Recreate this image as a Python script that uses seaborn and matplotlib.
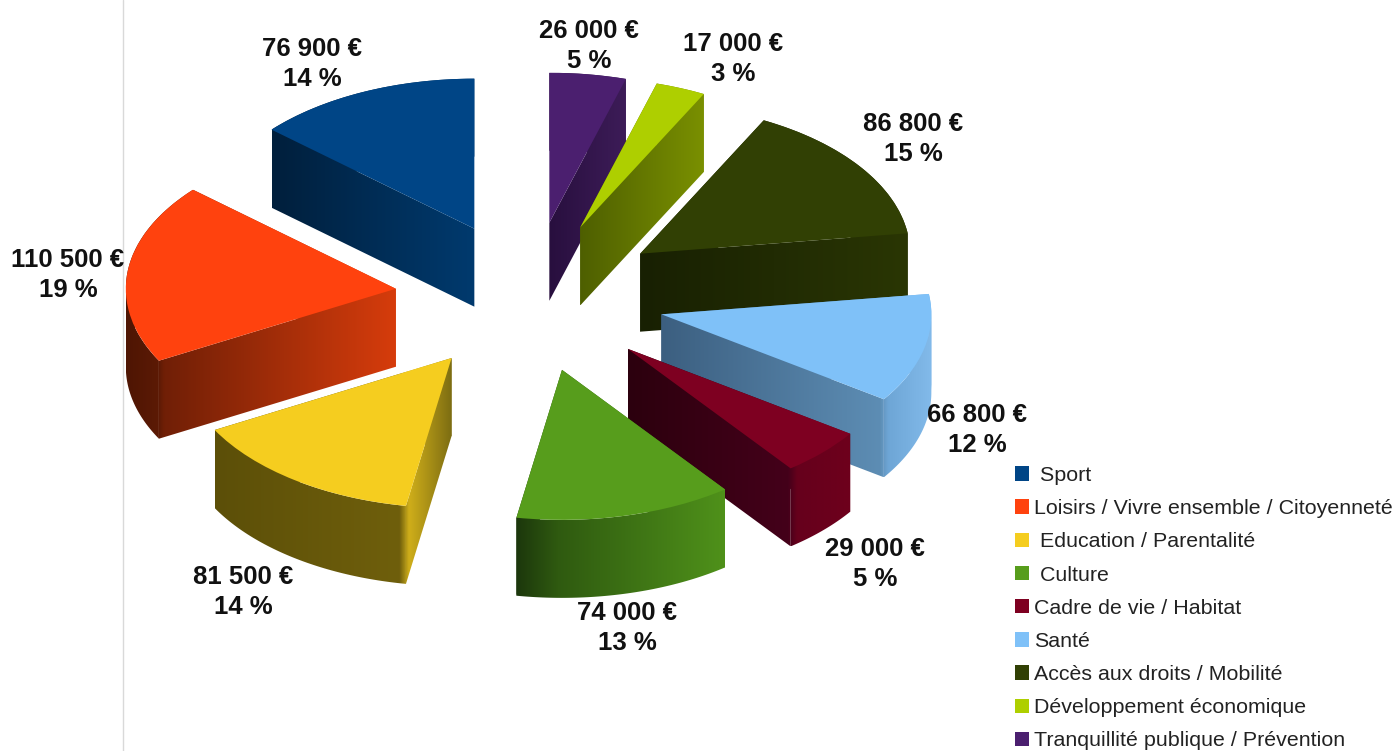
import numpy as np
import matplotlib
matplotlib.use("Agg")
import matplotlib.pyplot as plt
from matplotlib.colors import LinearSegmentedColormap
from matplotlib.path import Path
from matplotlib.transforms import Affine2D
import seaborn as sns

categories = [" Sport", "Loisirs / Vivre ensemble / Citoyenneté", " Education / Parentalité",
              " Culture", "Cadre de vie / Habitat", "Santé", "Accès aux droits / Mobilité",
              "Développement économique", "Tranquillité publique / Prévention"]
amounts = [76900, 110500, 81500, 74000, 29000, 66800, 86800, 17000, 26000]
percents = [14, 19, 14, 13, 5, 12, 15, 3, 5]
colors = ["#004586", "#ff420e", "#f5cd1f", "#579d1c", "#7e0021", "#7fc1f8", "#314004", "#aecf00", "#4b1f6f"]
side_stops = [
    [(0, "#001f3c"), (1, "#003a6e")],
    [(0, "#4e1503"), (0.12, "#5c1a05"), (0.14, "#701f06"), (1, "#d63c0c")],
    [(0, "#5c4f08"), (0.78, "#6f5f0c"), (0.82, "#cfae1a"), (1, "#7d6d12")],
    [(0, "#1c370c"), (0.2, "#2f5a10"), (1, "#4f911a")],
    [(0, "#2c000e"), (0.72, "#44001a"), (0.76, "#66001c"), (1, "#6e001c")],
    [(0, "#3c5f80"), (0.81, "#5d8db4"), (0.84, "#6ea6d6"), (1, "#82baea")],
    [(0, "#182002"), (1, "#2a3604")],
    [(0, "#4e5f00"), (1, "#7a9000")],
    [(0, "#280f3e"), (1, "#3d1c58")],
]
depth_order = [8, 0, 7, 6, 1, 5, 2, 4, 3]
label_centers = [(312, 62), (68, 273), (243, 590), (627, 626), (875, 562), (977, 428),
                 (913, 137), (733, 57), (589, 44)]

W, H = 1399, 751
cx, cy, a, b = 530, 297, 270, 150
depth = 78 / b

sns.set_theme(style="white")
plt.rcParams["font.family"] = ["Liberation Sans", "DejaVu Sans"]
fig = plt.figure(figsize=(W / 100, H / 100), dpi=100, facecolor="white")
ax = fig.add_axes([0, 0, 1, 1])

wedges, _ = ax.pie(amounts, colors=colors, startangle=90, counterclock=True,
                   explode=[0.5] * len(amounts), radius=1, wedgeprops=dict(linewidth=0))
ax.set_aspect("auto")
ax.set_xlim(-cx / a, (W - cx) / a)
ax.set_ylim((cy - H) / b, cy / b)
ax.axis("off")

ax.plot([(123 - cx) / a] * 2, [(cy - H) / b, cy / b], color="#d9d9d9", lw=1, zorder=0.5)

for rank, i in enumerate(depth_order):
    w = wedges[i]
    z = 1 + rank
    ctr = np.array(w.center)
    down = np.array([0, -depth])

    def arc_points(t0, t1):
        th = np.radians(np.linspace(t0, t1, 60))
        return np.c_[ctr[0] + w.r * np.cos(th), ctr[1] + w.r * np.sin(th)]

    inner = [t for t in np.arange(0, 721, 180) if w.theta1 < t < w.theta2]
    breaks = [w.theta1, *inner, w.theta2]
    faces = []
    for t0, t1 in zip(breaks[:-1], breaks[1:]):
        arc = arc_points(t0, t1)
        faces.append(np.vstack([arc, (arc + down)[::-1]]))
    for end in (w.theta1, w.theta2):
        p = arc_points(end, end)[0]
        faces.append(np.array([ctr, p, p + down, ctr + down]))
    pts = np.vstack(faces + [arc_points(w.theta1, w.theta2)])
    x0, x1, y0, y1 = pts[:, 0].min(), pts[:, 0].max(), pts[:, 1].min() , pts[:, 1].max()
    cmap = LinearSegmentedColormap.from_list(f"side{i}", side_stops[i])
    for face in faces:
        im = ax.imshow(np.linspace(0, 1, 512)[None, :], extent=(x0, x1, y0, y1), cmap=cmap,
                       aspect="auto", interpolation="bilinear", zorder=z)
        im.set_clip_path(Path(np.vstack([face, face[0]]), closed=True), ax.transData)
    w.set_zorder(z + 0.5)

ax.set_xlim(-cx / a, (W - cx) / a)
ax.set_ylim((cy - H) / b, cy / b)

px = Affine2D().scale(1, -1).translate(0, H)
for v, p, (x, y) in zip(amounts, percents, label_centers):
    txt = f"{v:,}".replace(",", " ") + f" €\n{p} %"
    ax.text(x, y + 2, txt, transform=px, ha="center", va="center", multialignment="center",
            fontsize=18.5, fontweight="bold", color="#111111", linespacing=1.33, zorder=30)

leg = ax.legend(wedges, categories, loc="upper left", bbox_to_anchor=(1015 / W, 1 - 466 / H),
                bbox_transform=fig.transFigure, frameon=False, fontsize=15.4, borderpad=0, borderaxespad=0,
                handlelength=0.655, handleheight=0.655, handletextpad=0.22, labelspacing=0.663,
                labelcolor="#222222")
leg.set_zorder(30)

fig.savefig("out.png", dpi=100, facecolor="white")
